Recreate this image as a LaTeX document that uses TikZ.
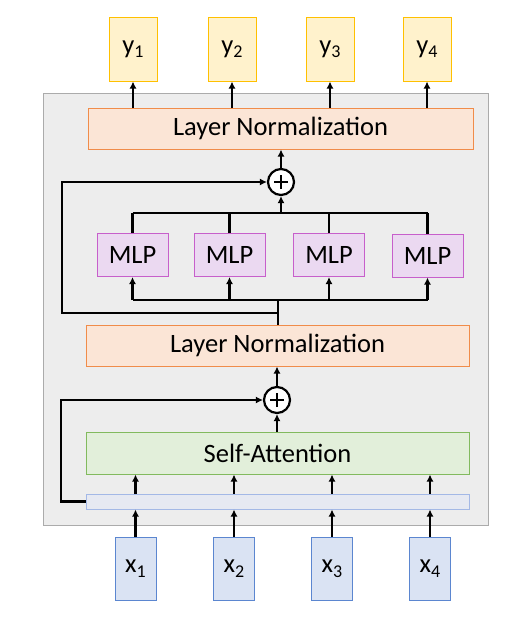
\documentclass[tikz,border=0pt]{standalone}
\usepackage{fontspec}
\setmainfont{Carlito}
\usetikzlibrary{arrows.meta,calc}
\definecolor{ybd}{HTML}{FFC000}
\definecolor{yfill}{HTML}{FFF2CC}
\definecolor{lnbd}{HTML}{F08C4A}
\definecolor{lnfill}{HTML}{FBE5D6}
\definecolor{mbd}{HTML}{C75FCB}
\definecolor{mfill}{HTML}{EBD9F1}
\definecolor{sabd}{HTML}{82BA5E}
\definecolor{safill}{HTML}{E2EFDA}
\definecolor{barbd}{HTML}{A3B8E6}
\definecolor{barfill}{HTML}{E6E9F2}
\definecolor{xbd}{HTML}{5B86D0}
\definecolor{xfill}{HTML}{DAE3F3}
\definecolor{bgfill}{HTML}{EDEDED}
\definecolor{bgbd}{HTML}{ABABAB}
\newcommand{\bigf}{\fontsize{26.5}{30}\selectfont}
\newcommand{\sbs}[1]{{\fontsize{18}{18}\selectfont\raisebox{-4.5pt}{#1}}}
\tikzset{
  box/.style={draw, line width=1pt, inner sep=0pt, font=\bigf},
  ybox/.style={box, draw=ybd, fill=yfill, minimum width=48pt, minimum height=64pt},
  xbox/.style={box, draw=xbd, fill=xfill, minimum width=41pt, minimum height=63pt},
  lnbox/.style={box, draw=lnbd, fill=lnfill, minimum height=41pt},
  mlpbox/.style={box, draw=mbd, fill=mfill, minimum width=71pt, minimum height=43pt},
  sabox/.style={box, draw=sabd, fill=safill, minimum height=42pt},
  barbox/.style={box, draw=barbd, fill=barfill, minimum height=15pt},
  plusnode/.style={circle, draw, line width=2.2pt, fill=white, minimum size=26pt, inner sep=0pt,
    path picture={\draw[line width=1.8pt] ([xshift=-7pt]path picture bounding box.center) -- ([xshift=7pt]path picture bounding box.center);
                  \draw[line width=1.8pt] ([yshift=-7pt]path picture bounding box.center) -- ([yshift=7pt]path picture bounding box.center);}},
  arr/.style={line width=2.4pt, -{Latex[length=7pt,width=7pt]}},
  ln/.style={line width=2.4pt},
}
\begin{document}
\begin{tikzpicture}[x=1pt,y=-1pt]
\useasboundingbox (0,0) rectangle (511,619);
\node[draw=bgbd, fill=bgfill, line width=1pt, minimum width=445pt, minimum height=432pt, inner sep=0pt] (bg) at (265.5,309) {};

% outputs
\node[ybox] (y1) at (133,49) {y\sbs{1}};
\node[ybox] (y2) at (232,49) {y\sbs{2}};
\node[ybox] (y3) at (330,49) {y\sbs{3}};
\node[ybox] (y4) at (427,49) {y\sbs{4}};

\node[lnbox, minimum width=385pt] (ln1) at (280.5,128.5) {Layer Normalization};
\node[plusnode] (p1) at (281,182) {};

\node[mlpbox] (m1) at (132.5,255) {MLP};
\node[mlpbox] (m2) at (229.5,255) {MLP};
\node[mlpbox] (m3) at (329,255) {MLP};
\node[mlpbox] (m4) at (427.5,255.5) {MLP};

\node[lnbox, minimum width=383pt] (ln2) at (277.5,345.5) {Layer Normalization};
\node[plusnode] (p2) at (277,400) {};
\node[sabox, minimum width=383pt] (sa) at (277.5,453) {Self-Attention};
\node[barbox, minimum width=383pt] (bar) at (277.5,501.5) {};

\node[xbox] (x1) at (135.5,568.5) {x\sbs{1}};
\node[xbox] (x2) at (234,568.5) {x\sbs{2}};
\node[xbox] (x3) at (332,568.5) {x\sbs{3}};
\node[xbox] (x4) at (430,568.5) {x\sbs{4}};

% LN1 -> outputs
\foreach \i in {1,2,3,4} { \draw[arr] (ln1.north -| y\i) -- (y\i.south); }
\draw[arr] (p1.north) -- (ln1.south -| p1);

% MLP top bus
\coordinate (tb) at (281,213);
\draw[ln] (tb -| m1) -- (tb -| m4);
\foreach \i in {1,2,3,4} { \draw[ln] (m\i.north) -- (tb -| m\i); }
\draw[arr] (tb) -- (p1.south);

% MLP input bus
\coordinate (ib) at (278,300);
\draw[ln] (ln2.north -| ib) -- (ib);
\draw[ln] (ib -| m1) -- (ib -| m4);
\foreach \i in {1,2,3,4} { \draw[arr] (ib -| m\i) -- (m\i.south); }

% skip 1
\coordinate (s1) at (62,313);
\draw[arr] (s1 -| ib) -- (s1) |- (p1.west);

% attention block
\draw[arr] (p2.north) -- (ln2.south -| p2);
\draw[arr] (sa.north -| p2) -- (p2.south);
\foreach \i in {1,2,3,4} { \draw[arr] (bar.north -| x\i) -- (sa.south -| x\i); }
\coordinate (s2) at (61,501.5);
\draw[arr] (bar.west) -- (s2) |- (p2.west);

% inputs
\foreach \i in {1,2,3,4} { \draw[arr] (x\i.north) -- (bar.south -| x\i); }
\end{tikzpicture}
\end{document}
